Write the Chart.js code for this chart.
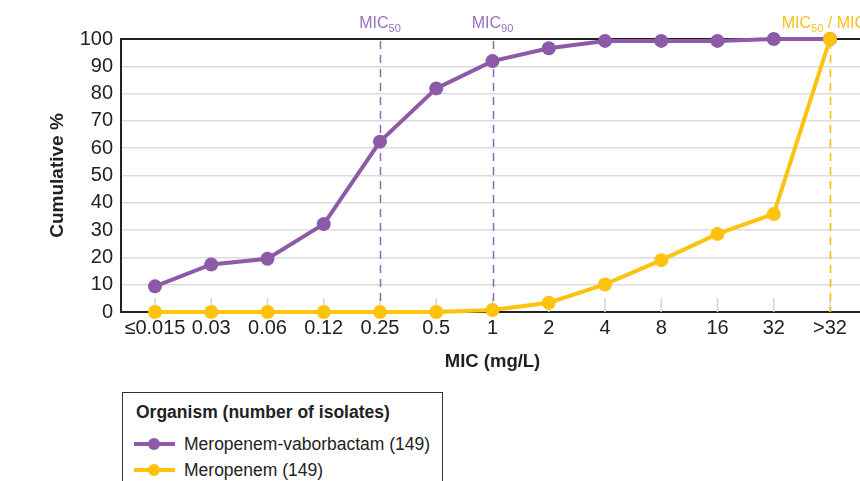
<!DOCTYPE html>
<html>
<head>
<meta charset="utf-8">
<script src="https://cdn.jsdelivr.net/npm/chart.js@4"></script>
<style>
  html, body { margin: 0; padding: 0; background: #fff; overflow: hidden; width: 860px; height: 481px; }
  #wrap { position: relative; width: 880px; height: 481px; }
  #c { position: absolute; left: 0; top: 0; }
  #legend { position: absolute; left: 122px; top: 392px; width: 319px; height: 120px;
    border: 1.5px solid #333; font-family: "Liberation Sans", Arial, sans-serif; color: #222; }
  #legend .ttl { position: absolute; left: 13px; top: 9px; font-weight: bold; font-size: 17.5px; white-space: nowrap; }
  #legend .item { position: absolute; left: 11px; height: 20px; font-size: 17.5px; white-space: nowrap; }
  #legend .mk { position: absolute; left: 0; top: 0; width: 41px; height: 20px; }
  #legend .mk .ln { position: absolute; left: 0; top: 8px; width: 41px; height: 4px; }
  #legend .mk .dt { position: absolute; left: 14px; top: 4px; width: 12px; height: 12px; border-radius: 50%; }
  #legend .tx { position: absolute; left: 50px; top: 0; line-height: 20px; }
</style>
</head>
<body>
<div id="wrap">
  <canvas id="c" width="880" height="380"></canvas>
  <div id="legend"></div>
</div>
<script>
const categories = ['≤0.015', '0.03', '0.06', '0.12', '0.25', '0.5', '1', '2', '4', '8', '16', '32', '>32'];
const meroVabor = [9.4, 17.4, 19.5, 32.2, 62.4, 81.9, 91.9, 96.6, 99.3, 99.3, 99.3, 100, 100];
const mero = [0, 0, 0, 0, 0, 0, 0.7, 3.4, 10.1, 19.0, 28.6, 35.9, 100];
const yTicks = [0, 10, 20, 30, 40, 50, 60, 70, 80, 90, 100];
const seriesLabels = ['Meropenem-vaborbactam (149)', 'Meropenem (149)'];
const legendTitle = 'Organism (number of isolates)';
const micMarkers = [
  { cat: '0.25', main: 'MIC', sub: '50', rest: '', color: '#9a6fbb', dash: '#9169b3' },
  { cat: '1', main: 'MIC', sub: '90', rest: '', color: '#9a6fbb', dash: '#9169b3' },
  { cat: '>32', main: 'MIC', sub: '50', rest: ' / MIC', sub2: '90', color: '#f9bf1a', dash: '#f7b900' }
];

const PURPLE = '#8c5aa9';
const ORANGE = '#ffc20e';
const FONT = '"Liberation Sans", Arial, sans-serif';

const toPts = arr => arr.map((v, i) => ({ x: i, y: v }));

const micPlugin = {
  id: 'mic',
  beforeDatasetsDraw(chart) {
    const { ctx, chartArea, scales } = chart;
    const x = scales.x, y = scales.y;
    ctx.save();
    ctx.strokeStyle = '#d4d4d4';
    ctx.lineWidth = 1.5;
    categories.forEach((c, i) => {
      const px = x.getPixelForValue(i);
      ctx.beginPath();
      ctx.moveTo(px, chartArea.bottom);
      ctx.lineTo(px, chartArea.bottom - 14);
      ctx.stroke();
    });
    micMarkers.forEach(m => {
      const px = Math.round(x.getPixelForValue(categories.indexOf(m.cat))) + 0.5;
      ctx.strokeStyle = m.dash;
      ctx.lineWidth = 1.5;
      ctx.setLineDash([8, 6]);
      ctx.beginPath();
      ctx.moveTo(px, y.getPixelForValue(100) + 2);
      ctx.lineTo(px, y.getPixelForValue(0));
      ctx.stroke();
    });
    ctx.setLineDash([]);
    ctx.strokeStyle = '#222';
    ctx.lineWidth = 2;
    ctx.beginPath();
    ctx.moveTo(chartArea.left, chartArea.top);
    ctx.lineTo(chart.width, chartArea.top);
    ctx.stroke();
    ctx.textBaseline = 'alphabetic';
    micMarkers.forEach(m => {
      const px = x.getPixelForValue(categories.indexOf(m.cat));
      const big = '16px ' + FONT, small = '11px ' + FONT;
      ctx.font = big; const w1 = ctx.measureText(m.main).width;
      const w3 = ctx.measureText(m.rest).width;
      ctx.font = small; const w2 = ctx.measureText(m.sub).width;
      const w4 = m.sub2 ? ctx.measureText(m.sub2).width : 0;
      let sx = px - (w1 + w2 + w3 + w4) / 2;
      const base = 28;
      ctx.fillStyle = m.color;
      ctx.font = big; ctx.fillText(m.main, sx, base); sx += w1;
      ctx.font = small; ctx.fillText(m.sub, sx, base + 4); sx += w2;
      ctx.font = big; ctx.fillText(m.rest, sx, base); sx += w3;
      if (m.sub2) { ctx.font = small; ctx.fillText(m.sub2, sx, base + 4); }
    });
    ctx.restore();
  }
};

const chart = new Chart(document.getElementById('c'), {
  type: 'line',
  data: {
    datasets: [
      { label: seriesLabels[0], data: toPts(meroVabor), borderColor: PURPLE, backgroundColor: PURPLE,
        borderWidth: 4, pointRadius: 7, pointHoverRadius: 7, pointBorderWidth: 0, clip: false, order: 1, tension: 0 },
      { label: seriesLabels[1], data: toPts(mero), borderColor: ORANGE, backgroundColor: ORANGE,
        borderWidth: 4, pointRadius: 7, pointHoverRadius: 7, pointBorderWidth: 0, clip: false, order: 0, tension: 0 }
    ]
  },
  options: {
    responsive: false,
    animation: false,
    devicePixelRatio: 1,
    layout: { padding: { top: 39, right: 16, left: 0, bottom: 0 } },
    plugins: { legend: { display: false }, tooltip: { enabled: false } },
    scales: {
      x: {
        type: 'linear',
        min: -0.604,
        max: 12.604,
        afterBuildTicks: s => { s.ticks = categories.map((c, i) => ({ value: i })); },
        afterFit: s => { s.height = 68; },
        ticks: { callback: v => categories[v], font: { family: FONT, size: 20 }, color: '#222', padding: 4, maxRotation: 0, autoSkip: false },
        grid: { display: false, drawTicks: false },
        border: { display: true, color: '#222', width: 2 },
        title: { display: true, text: 'MIC (mg/L)', font: { family: FONT, size: 18.5, weight: 'bold' }, color: '#222', padding: { top: 0, bottom: 7 } }
      },
      y: {
        min: 0, max: 100,
        afterBuildTicks: s => { s.ticks = yTicks.map(v => ({ value: v })); },
        afterFit: s => { s.width = 121; },
        ticks: { font: { family: FONT, size: 20 }, color: '#222', padding: 8, autoSkip: false },
        grid: { color: c => (c.tick && (c.tick.value === 0 || c.tick.value === 100)) ? 'rgba(0,0,0,0)' : '#dcdcdc', lineWidth: 1.5, drawTicks: false },
        border: { display: true, color: '#222', width: 2 },
        title: { display: true, text: 'Cumulative %', font: { family: FONT, size: 19, weight: 'bold' }, color: '#222', padding: { top: 46, bottom: 0 } }
      }
    }
  },
  plugins: [micPlugin]
});

const lg = document.getElementById('legend');
const t = document.createElement('div'); t.className = 'ttl'; t.textContent = legendTitle; lg.appendChild(t);
chart.data.datasets.forEach((ds, i) => {
  const it = document.createElement('div'); it.className = 'item';
  it.style.top = (41 + i * 26) + 'px';
  it.innerHTML = '<div class="mk"><div class="ln" style="background:' + ds.borderColor + '"></div><div class="dt" style="background:' + ds.borderColor + '"></div></div><div class="tx"></div>';
  it.querySelector('.tx').textContent = ds.label;
  lg.appendChild(it);
});
</script>
</body>
</html>
